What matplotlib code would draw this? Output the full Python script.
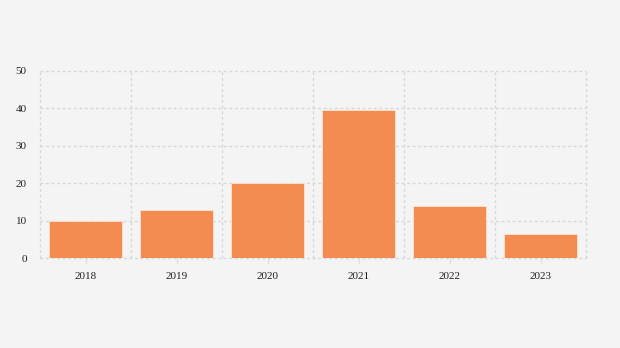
import numpy as np
import matplotlib as mpl
import matplotlib.pyplot as plt
from matplotlib.ticker import FixedLocator

plt.rcParams.update(
    {
        "font.family": ["Liberation Serif", "DejaVu Serif"],
        "font.size": 8,
        "axes.spines.top": False,
        "axes.spines.right": False,
        "axes.spines.bottom": False,
        "axes.spines.left": False,
        "axes.axisbelow": True,
    }
)

YEARS = ["2018", "2019", "2020", "2021", "2022", "2023"]
VALUES = [10.0, 12.8, 20.0, 39.7, 13.8, 6.3]

fig = plt.figure(figsize=(6.2, 3.48), dpi=100, facecolor="#f4f4f4")
ax = fig.add_axes([40 / 620, 1 - 258 / 348, 546 / 620, 187 / 348])
ax.set_facecolor("#f4f4f4")

X = np.arange(len(YEARS))
ax.bar(X, VALUES, width=0.8, color="#f48c51", edgecolor="#fbe3d4", linewidth=0.6)

ax.set_xlim(-0.5, len(YEARS) - 0.5)
ax.set_ylim(0, 50)
ax.set_yticks(np.arange(0, 51, 10))
ax.set_xticks(X)
ax.set_xticklabels(YEARS)
ax.xaxis.set_minor_locator(FixedLocator(np.arange(-0.5, len(YEARS), 1)))

ax.grid(which="major", axis="y", color="#d6d6d6", linestyle=(0, (2, 2)), linewidth=1)
ax.grid(which="minor", axis="x", color="#d6d6d6", linestyle=(0, (2, 2)), linewidth=1)
for tick in ax.xaxis.get_minor_ticks() + ax.yaxis.get_major_ticks():
    tick.gridline.set_clip_on(False)
ax.tick_params(axis="y", which="both", left=False, pad=6, colors="#222222")
ax.tick_params(axis="x", which="minor", bottom=False)
ax.tick_params(axis="x", which="major", length=4, color="#dddddd", pad=6, labelcolor="#222222")

plt.savefig("out.png", dpi=100, facecolor=fig.get_facecolor())
